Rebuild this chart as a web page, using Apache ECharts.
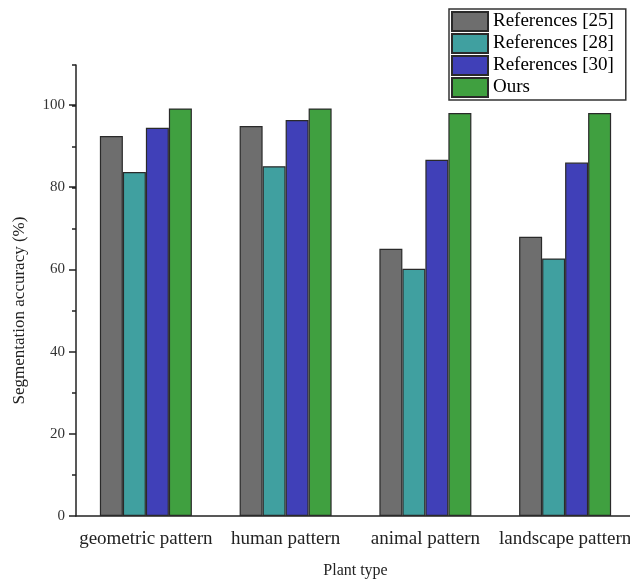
<!DOCTYPE html>
<html>
<head>
<meta charset="utf-8">
<script src="https://cdn.jsdelivr.net/npm/echarts@6/dist/echarts.min.js"></script>
<style>
html,body{margin:0;padding:0;background:#fff;}
#c{width:630px;height:581px;}
</style>
</head>
<body>
<div id="c"></div>
<script>
const categories = ['geometric pattern', 'human pattern', 'animal pattern', 'landscape pattern'];
const seriesNames = ['References [25]', 'References [28]', 'References [30]', 'Ours'];
const ref25 = [92.7, 95.1, 65.2, 68.1];
const ref28 = [83.9, 85.3, 60.3, 62.8];
const ref30 = [94.7, 96.6, 86.9, 86.2];
const ours = [99.4, 99.4, 98.3, 98.3];
const yTickLabels = [0, 20, 40, 60, 80, 100];
const colors = ['#6e6e6e', '#40a0a0', '#4040b8', '#40a040'];

const FONT = "'Liberation Serif', 'Times New Roman', serif";
const chart = echarts.init(document.getElementById('c'), null, {renderer: 'canvas'});
const values = [ref25, ref28, ref30, ours];

chart.setOption({
  animation: false,
  backgroundColor: '#fff',
  textStyle: {fontFamily: FONT},
  legend: {
    data: seriesNames,
    orient: 'vertical',
    left: 449, top: 9,
    itemWidth: 36, itemHeight: 19, itemGap: 1,
    icon: 'rect',
    selectedMode: false,
    backgroundColor: '#fff',
    borderColor: '#333', borderWidth: 1.5,
    padding: [2, 12, 2, 2],
    textStyle: {fontSize: 19, color: '#000', fontFamily: FONT}
  },
  grid: [
    {left: 76, top: 65, width: 559, height: 451, outerBoundsMode: 'none', containLabel: false},
    {left: 76, top: 105, width: 559, height: 411, outerBoundsMode: 'none', containLabel: false}
  ],
  xAxis: [
    {
      type: 'category', gridIndex: 0, data: categories, position: 'bottom',
      axisLine: {lineStyle: {color: '#222', width: 1.5}},
      axisTick: {alignWithLabel: true, length: 7, lineStyle: {color: '#222', width: 1.5}},
      axisLabel: {interval: 0, fontSize: 19, color: '#222', margin: 14, fontFamily: FONT, hideOverlap: false},
      name: 'Plant type', nameLocation: 'middle', nameGap: 47,
      nameTextStyle: {fontSize: 16, color: '#222', fontFamily: FONT}
    },
    {
      type: 'category', gridIndex: 0, data: categories, position: 'bottom',
      axisLine: {show: false},
      axisTick: {interval: 0, length: 4, lineStyle: {color: '#222', width: 1.5}},
      axisLabel: {show: false}
    },
    {type: 'category', gridIndex: 1, data: categories, show: false}
  ],
  yAxis: [
    {
      type: 'value', gridIndex: 0, min: 0, max: 110, interval: 10,
      axisLine: {show: true, lineStyle: {color: '#222', width: 1.5}},
      axisTick: {show: true, length: 4, lineStyle: {color: '#222', width: 1.5}},
      axisLabel: {show: false},
      splitLine: {show: false}
    },
    {
      type: 'value', gridIndex: 1, min: 0, max: 100, interval: 20,
      axisLine: {show: false},
      axisTick: {show: true, length: 7, lineStyle: {color: '#222', width: 1.5}},
      axisLabel: {fontSize: 15, color: '#333', margin: 11, fontFamily: FONT,
        formatter: v => yTickLabels.includes(v) ? String(v) : ''},
      splitLine: {show: false},
      name: 'Segmentation accuracy (%)', nameLocation: 'middle', nameGap: 48,
      nameTextStyle: {fontSize: 17, color: '#222', fontFamily: FONT}
    }
  ],
  series: seriesNames.map((n, i) => ({
    name: n, type: 'bar', xAxisIndex: 0, yAxisIndex: 0,
    data: values[i], barWidth: 23, barGap: '0%',
    itemStyle: {color: colors[i], borderColor: '#2a2a2a', borderWidth: 1.2}
  }))
});
</script>
</body>
</html>
